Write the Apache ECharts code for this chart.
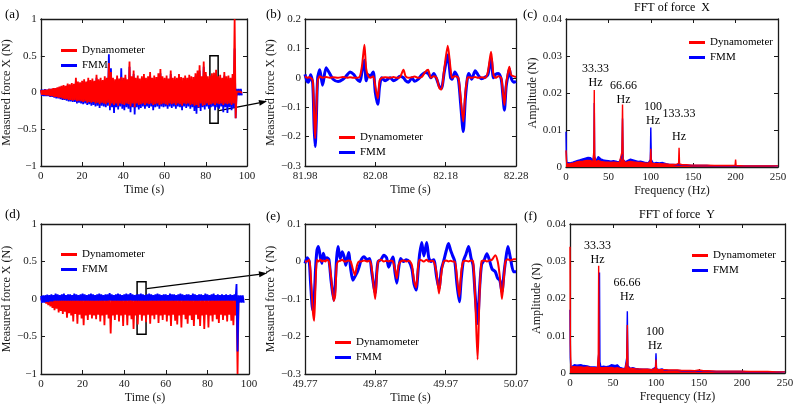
<!DOCTYPE html>
<html>
<head>
<meta charset="utf-8">
<script src="https://cdn.jsdelivr.net/npm/echarts@6/dist/echarts.min.js"></script>
<style>
  html, body { margin: 0; padding: 0; background: #fff; }
  #chart { width: 800px; height: 410px; }
</style>
</head>
<body>
<div id="chart"></div>
<script>
// ---- data ----
// (a) force X, envelope of the dense signal, one sample per second (0..97 s)
const aRedHi = [0.03,0.03,0.04,0.04,0.05, 0.05,0.06,0.06,0.07,0.08, 0.09,0.10,0.09,0.12,0.11, 0.13,0.12,0.20,0.15,0.14, 0.16,0.18,0.15,0.20,0.17, 0.19,0.16,0.24,0.18,0.20, 0.17,0.22,0.20,0.40,0.28, 0.20,0.18,0.23,0.19,0.21, 0.20,0.24,0.18,0.42,0.22, 0.30,0.20,0.23,0.19,0.22, 0.25,0.20,0.22,0.28,0.20, 0.23,0.21,0.26,0.32,0.22, 0.20,0.23,0.19,0.30,0.20, 0.22,0.20,0.25,0.21,0.20, 0.23,0.20,0.24,0.22,0.21, 0.26,0.30,0.37,0.22,0.42, 0.28,0.22,0.23,0.26,0.27, 0.31,0.22,0.24,0.20,0.28, 0.22,0.23,0.20,0.25,1.00, 0.01,0.01,0.01]
const aRedLo = [-0.03,-0.03,-0.04,-0.04,-0.05, -0.05,-0.06,-0.06,-0.07,-0.07, -0.08,-0.09,-0.09,-0.10,-0.10, -0.11,-0.10,-0.12,-0.11,-0.12, -0.13,-0.12,-0.14,-0.13,-0.14, -0.13,-0.15,-0.14,-0.16,-0.14, -0.15,-0.16,-0.14,-0.18,-0.15, -0.17,-0.15,-0.18,-0.15,-0.16, -0.17,-0.15,-0.16,-0.19,-0.15, -0.20,-0.15,-0.17,-0.16,-0.15, -0.17,-0.15,-0.16,-0.15,-0.17, -0.16,-0.15,-0.17,-0.16,-0.15, -0.16,-0.17,-0.15,-0.16,-0.15, -0.17,-0.15,-0.16,-0.18,-0.15, -0.16,-0.15,-0.17,-0.16,-0.18, -0.17,-0.20,-0.15,-0.18,-0.17, -0.15,-0.17,-0.16,-0.15,-0.17, -0.15,-0.16,-0.15,-0.17,-0.15, -0.16,-0.15,-0.17,-0.15,-0.35, -0.01,-0.01,-0.01]
const aBluHi = [0.04,0.04,0.045,0.04,0.05, 0.05,0.05,0.06,0.06,0.07, 0.08,0.08,0.08,0.10,0.09, 0.10,0.10,0.15,0.12,0.12, 0.13,0.15,0.12,0.16,0.14, 0.15,0.13,0.20,0.15,0.16, 0.14,0.18,0.16,0.52,0.33, 0.16,0.15,0.20,0.16,0.33, 0.17,0.20,0.15,0.35,0.18, 0.25,0.16,0.19,0.16,0.18, 0.20,0.16,0.18,0.23,0.16, 0.19,0.17,0.21,0.26,0.18, 0.16,0.19,0.16,0.25,0.16, 0.18,0.16,0.20,0.17,0.16, 0.19,0.16,0.20,0.18,0.17, 0.22,0.25,0.30,0.18,0.35, 0.24,0.18,0.20,0.22,0.23, 0.26,0.18,0.20,0.17,0.23, 0.18,0.19,0.17,0.20,0.60, 0.05,0.05,0.05]
const aBluLo = [-0.045,-0.05,-0.05,-0.05,-0.06, -0.06,-0.07,-0.08,-0.08,-0.09, -0.10,-0.10,-0.11,-0.12,-0.12, -0.13,-0.13,-0.15,-0.14,-0.15, -0.16,-0.15,-0.17,-0.16,-0.18, -0.17,-0.19,-0.18,-0.21,-0.18, -0.19,-0.20,-0.18,-0.24,-0.20, -0.28,-0.20,-0.23,-0.19,-0.22, -0.24,-0.20,-0.22,-0.27,-0.20, -0.30,-0.20,-0.23,-0.21,-0.19, -0.22,-0.19,-0.21,-0.19,-0.24, -0.20,-0.19,-0.22,-0.19,-0.20, -0.19,-0.22,-0.19,-0.21,-0.19, -0.22,-0.19,-0.20,-0.24,-0.19, -0.21,-0.19,-0.22,-0.20,-0.25, -0.29,-0.21,-0.25,-0.20,-0.23, -0.19,-0.22,-0.20,-0.19,-0.24, -0.20,-0.22,-0.19,-0.27,-0.20, -0.28,-0.20,-0.24,-0.21,-0.35, -0.04,-0.04,-0.04]

// (d) force Y, same sampling
const dRedHi = [0.01,0.01,0.01,0.01,0.01, 0.01,0.01,0.01,0.01,0.01, 0.01,0.01,0.01,0.01,0.01, 0.01,0.01,0.01,0.01,0.01, 0.01,0.01,0.01,0.01,0.01, 0.01,0.01,0.01,0.01,0.01, 0.01,0.01,0.01,0.01,0.01, 0.01,0.01,0.01,0.01,0.01, 0.01,0.01,0.01,0.01,0.01, 0.01,0.01,0.01,0.01,0.01, 0.01,0.01,0.01,0.01,0.01, 0.01,0.01,0.01,0.01,0.01, 0.01,0.01,0.01,0.01,0.01, 0.01,0.01,0.01,0.01,0.01, 0.01,0.01,0.01,0.01,0.01, 0.01,0.01,0.01,0.01,0.01, 0.01,0.01,0.01,0.01,0.01, 0.01,0.01,0.01,0.01,0.01, 0.01,0.01,0.01,0.01,0.05, 0.01,0.01,0.01]
const dRedLo = [-0.03,-0.04,-0.06,-0.08,-0.10, -0.12,-0.15,-0.13,-0.18,-0.16, -0.20,-0.17,-0.25,-0.19,-0.22, -0.30,-0.20,-0.33,-0.21,-0.26, -0.35,-0.22,-0.28,-0.21,-0.26, -0.22,-0.27,-0.21,-0.30,-0.22, -0.35,-0.21,-0.26,-0.46,-0.22, -0.28,-0.21,-0.30,-0.22,-0.36, -0.21,-0.35,-0.22,-0.27,-0.40, -0.22,-0.34,-0.21,-0.29,-0.22, -0.31,-0.21,-0.33,-0.22,-0.27, -0.21,-0.32,-0.22,-0.28,-0.21, -0.30,-0.22,-0.36,-0.21,-0.29, -0.34,-0.22,-0.38,-0.21,-0.27, -0.33,-0.22,-0.28,-0.36,-0.21, -0.27,-0.36,-0.22,-0.40,-0.21, -0.38,-0.22,-0.30,-0.21,-0.27, -0.32,-0.21,-0.28,-0.22,-0.30, -0.21,-0.29,-0.35,-0.22,-1.00, -0.01,-0.01,-0.01]
const dBluHi = [0.04,0.05,0.05,0.06,0.05, 0.06,0.05,0.07,0.06,0.05, 0.06,0.07,0.05,0.06,0.06, 0.05,0.07,0.06,0.05,0.06, 0.07,0.06,0.05,0.06,0.07, 0.06,0.05,0.06,0.07,0.06, 0.05,0.06,0.06,0.08,0.06, 0.05,0.06,0.07,0.06,0.05, 0.06,0.07,0.06,0.08,0.06, 0.05,0.06,0.06,0.07,0.06, 0.05,0.06,0.07,0.06,0.05, 0.06,0.07,0.06,0.05,0.06, 0.06,0.05,0.07,0.06,0.06, 0.05,0.06,0.07,0.06,0.05, 0.06,0.06,0.05,0.07,0.06, 0.05,0.06,0.06,0.05,0.07, 0.06,0.05,0.06,0.07,0.05, 0.06,0.05,0.06,0.05,0.06, 0.05,0.06,0.05,0.06,0.20, 0.05,0.05,0.05]
const dBluLo = [-0.05,-0.05,-0.04,-0.04,-0.03, -0.03,-0.02,-0.02,-0.02,-0.02, -0.02,-0.02,-0.02,-0.02,-0.02, -0.02,-0.02,-0.02,-0.02,-0.02, -0.02,-0.02,-0.02,-0.02,-0.02, -0.02,-0.02,-0.02,-0.02,-0.02, -0.02,-0.02,-0.02,-0.02,-0.02, -0.02,-0.02,-0.02,-0.02,-0.02, -0.02,-0.02,-0.02,-0.02,-0.02, -0.02,-0.02,-0.02,-0.02,-0.02, -0.02,-0.02,-0.02,-0.02,-0.02, -0.02,-0.02,-0.02,-0.02,-0.02, -0.02,-0.02,-0.02,-0.02,-0.02, -0.02,-0.02,-0.02,-0.02,-0.02, -0.02,-0.02,-0.02,-0.02,-0.02, -0.02,-0.02,-0.02,-0.02,-0.02, -0.02,-0.02,-0.02,-0.02,-0.02, -0.02,-0.02,-0.02,-0.02,-0.02, -0.02,-0.02,-0.02,-0.02,-0.70, -0.05,-0.05,-0.05]

// (b) zoom of force X, time in ms after 81.98 s
const bStart = 81.98
const bMs = [0,3,5,8,11,13,14.5,16,18,21, 25,30,35,40,47,54,60,64,69,74, 78,81,84.5,87,90,93,97,100,103.5,106, 109,114,121,126,130,135,140,143,147,152, 156,161,166,171,175,179,183,187,191,194, 198,203,207,209,213,218,221,225,228,231, 233,237,242,246,251,256,260,264.5,268,271, 275,279,281,283.5,286,288,290.5,293,297,300]
const bRed = [0.005,0,0.002,0,-0.01,-0.13,-0.206,-0.12,-0.01,0.005, 0,0.003,0,0.002,0,0.003,0,0.002,0,0, 0.005,0.04,0.112,0.03,0.005,0,0.005,-0.03,-0.07,-0.01, 0,0.002,0,0.003,0,0.002,0.027,0.005,0,0.002, 0.004,0,0.003,0.02,0.027,0,0.005,0,-0.035,-0.04, 0.03,0.109,0.03,0,0.005,0,-0.06,-0.149,-0.05,0, 0.002,0,0.003,0,0.002,0,0.02,0.089,0.01,0, 0.005,0,-0.04,-0.093,-0.02,0.01,0.038,0.01,0.005,0.003]
const bBlue = [0.012,-0.012,-0.015,0.01,-0.02,-0.17,-0.234,-0.15,0,0.027, -0.025,0.034,0.015,-0.005,-0.013,-0.005,0.01,0.02,0.012,-0.005, -0.013,0.02,0.06,-0.01,0.01,0.006,0.02,-0.05,-0.09,-0.03, 0,-0.01,0,-0.01,-0.005,0.005,0,-0.01,-0.015,0, -0.012,-0.005,0.01,0.018,0.015,0,0.015,-0.003,-0.03,-0.036, 0.02,0.078,0,-0.005,0.02,-0.005,-0.08,-0.183,-0.07,0, 0.015,-0.005,0.024,0.01,-0.003,0.002,0.01,0.066,0,0.012, 0.015,-0.005,-0.05,-0.11,-0.03,0,0.03,0,-0.015,-0.012]

// (e) zoom of force Y, time in ms after 49.77 s
const eStart = 49.77
const eMs = [0,3,6,8,11,13,15,17,19,22, 24,26,29,31,34,37,41,43,45,47, 50,53,56,58,62,65,68,71,74,77, 80,84,88,92,95,99.8,102,104,108,112, 116,119,122,125,128,130.5,133,136,140,144, 148,152,155,158,161,163,166,169,173,176, 179,183,187,190.5,194,197,201,204,207,210, 213,216,219.4,222,225,229,232.6,236,239,242, 245.4,248,251,255,258.6,262,266,270.5,274,277, 280,283,285,288.5,292,296.6,300]
const eRed = [0,0,0.005,-0.03,-0.13,-0.158,-0.06,0.005,0,0.005, 0,0.003,0,0.005,0,-0.04,-0.105,-0.09,-0.01,0, 0.002,0.005,0,0,0.003,0,-0.02,-0.036,-0.01,0, 0,0.003,0,0.002,-0.02,-0.1,-0.04,0,0.005,0, 0.002,0,0.003,0,-0.02,-0.045,-0.01,0,0.003,0, 0.002,-0.01,-0.05,-0.069,-0.01,0.005,0.003,0,0.005,0, 0.002,0,-0.03,-0.085,-0.03,0,0.003,0,0.002,0, 0,-0.04,-0.094,-0.03,0,0.002,0,0.003,0,-0.1, -0.261,-0.1,0,0.003,0,0.003,0.005,0.017,0,-0.04, -0.1,-0.04,0,0.006,0.003,0.006,0.006]
const eBlue = [-0.005,0.01,0,-0.06,-0.13,-0.1,-0.02,0.03,0.04,0.01, -0.005,0.022,0.005,0.01,0.005,-0.05,-0.103,-0.06,0.01,0.04, 0.008,0.026,0.01,-0.01,0.024,-0.02,-0.05,-0.04,-0.03,-0.014, 0.005,0.013,0.005,0.008,-0.03,-0.084,-0.03,0,0.005,0.017, 0.01,-0.015,0,0.012,-0.03,-0.058,-0.02,0.008,0,0.005, 0,-0.02,-0.06,-0.076,-0.02,0.02,0.051,0.015,0.051,0.01, 0,0.005,-0.04,-0.072,-0.02,0,0.03,0.048,0.03,0.015, 0,-0.06,-0.107,-0.05,0,0.02,0.04,0.01,-0.01,-0.09, -0.165,-0.08,-0.009,0.005,0.021,0.005,-0.02,-0.027,-0.045,-0.05, -0.081,-0.03,0,0.04,0.01,-0.027,-0.027]

// (c) FFT of force X
const cFreq = [0,0.4,1,2,5,8,10,13,16,20, 23,26,29,32,32.9,33.33,33.8,35,38,41, 44,47,50,53,56,60,63,65.9,66.66,67.4, 70,73,76,79,82,85,88,91,94,97, 99.4,100,100.6,103,106,110,114,118,122,126, 130,132.8,133.33,133.9,137,142,148,155,160,166, 166.66,167.3,175,185,195,199.4,200,200.6,210,220, 230,240,250]
const cBlue = [0.0095,0.004,0.0012,0.001,0.0011,0.0013,0.0012,0.0017,0.0019,0.0022, 0.0024,0.0026,0.0025,0.0018,0.004,0.0173,0.003,0.0015,0.0028,0.0022, 0.0019,0.0018,0.0017,0.0016,0.0017,0.0015,0.0014,0.003,0.0131,0.002, 0.0014,0.0018,0.0021,0.0019,0.0017,0.0015,0.0016,0.0014,0.0012,0.0011, 0.002,0.0107,0.002,0.001,0.0012,0.0011,0.0012,0.0009,0.0007,0.0007, 0.0006,0.0006,0.0008,0.0005,0.0005,0.0005,0.0004,0.0004,0.0004,0.0004, 0.0005,0.0004,0.0003,0.0003,0.0003,0.0003,0.0005,0.0003,0.0003,0.0003, 0.0003,0.0003,0.0003]
const cRed = [0.0045,0.002,0.0008,0.0008,0.0009,0.001,0.0012,0.0014,0.0015,0.0016, 0.0017,0.0018,0.0017,0.0014,0.005,0.0208,0.003,0.0014,0.0017,0.0015, 0.0014,0.0013,0.0013,0.0012,0.0013,0.0012,0.0012,0.004,0.0169,0.002, 0.0012,0.0014,0.0015,0.0014,0.0013,0.0012,0.0012,0.0011,0.001,0.001, 0.0015,0.0049,0.0012,0.0009,0.0009,0.0009,0.0008,0.0008,0.0007,0.0007, 0.0007,0.001,0.0052,0.0008,0.0006,0.0006,0.0005,0.0005,0.0005,0.0005, 0.0008,0.0004,0.0004,0.0004,0.0004,0.0005,0.002,0.0004,0.0003,0.0003, 0.0003,0.0003,0.0003]

// (f) FFT of force Y
const fFreq = [0,0.4,1,3,5,8,10,13,16,20, 23,26,29,32,32.9,33.33,33.8,34.3,34.8,36, 39,42,45,48,50,52,55,58,61,64, 65.9,66.66,67.4,70,73,76,80,85,90,95, 99.4,100,100.6,103,107,110,115,120,125,130, 135,140,145,150,155,160,170,180,190,199.4, 200,200.6,210,220,230,240,250]
const fBlue = [0.017,0.004,0.0015,0.0018,0.0022,0.0021,0.002,0.0022,0.002,0.0019, 0.0017,0.0016,0.0016,0.0015,0.002,0.005,0.012,0.027,0.003,0.0016, 0.0018,0.0017,0.0018,0.0022,0.0027,0.002,0.0022,0.0015,0.0013,0.0012, 0.004,0.0166,0.002,0.0012,0.0014,0.0012,0.0011,0.001,0.001,0.0009, 0.0015,0.0053,0.0012,0.0009,0.0011,0.0008,0.0007,0.0007,0.0007,0.0006, 0.0006,0.0006,0.0005,0.0006,0.0005,0.0005,0.0004,0.0004,0.0004,0.0004, 0.0006,0.0004,0.0003,0.0003,0.0003,0.0003,0.0003]
const fRed = [0.0339,0.008,0.0016,0.0016,0.0017,0.0016,0.0017,0.0016,0.0015,0.0016, 0.0015,0.0014,0.0014,0.0013,0.005,0.0288,0.004,0.0014,0.0013,0.0013, 0.0014,0.0015,0.0014,0.0015,0.0014,0.0013,0.0014,0.0012,0.0011,0.0011, 0.003,0.0129,0.0015,0.0012,0.0012,0.0011,0.0011,0.001,0.001,0.0009, 0.0012,0.0036,0.001,0.0009,0.0009,0.0009,0.0008,0.0008,0.0008,0.0007, 0.0007,0.0007,0.0006,0.0008,0.0006,0.0006,0.0005,0.0005,0.0005,0.0005, 0.0009,0.0005,0.0004,0.0004,0.0004,0.0003,0.0003]

// ---- chart ----
const FONT = 'Liberation Serif'
const INK = '#1a1a1a'
const RED = '#ff0000'
const BLUE = '#0000ff'

const fmt = (v) => String(parseFloat(v.toFixed(4))).replace('-', '\u2212')

// dense signal drawn as an up/down trace between the envelope values
const zigzag = (hi, lo) => {
  const out = []
  for (let i = 0; i < Math.min(hi.length, lo.length); i++) {
    out.push([i, hi[i]])
    out.push([i + 0.5, lo[i]])
  }
  return out
}
const pairs = (xs, ys) => xs.map((x, i) => [x, ys[i]])

const grids = [
  { left: 40, top: 19, width: 207, height: 147 },
  { left: 305, top: 19, width: 211, height: 147 },
  { left: 566, top: 19, width: 212, height: 148 },
  { left: 41, top: 224, width: 208, height: 150 },
  { left: 305, top: 224, width: 211, height: 150 },
  { left: 570, top: 224, width: 215, height: 149 }
]

const axSpec = [
  { x: [0, 100, 20, fmt, 'Time (s)'], y: [-1, 1, 0.5, 'Measured force X (N)'] },
  { x: [0, 300, 100, (v) => (bStart + v / 1000).toFixed(2), 'Time (s)'], y: [-0.3, 0.2, 0.1, 'Measured force X (N)'] },
  { x: [0, 250, 50, fmt, 'Frequency (Hz)'], y: [0, 0.04, 0.01, 'Amplitude (N)'] },
  { x: [0, 100, 20, fmt, 'Time (s)'], y: [-1, 1, 0.5, 'Measured force X (N)'] },
  { x: [0, 300, 100, (v) => (eStart + v / 1000).toFixed(2), 'Time (s)'], y: [-0.3, 0.1, 0.1, 'Measured force Y (N)'] },
  { x: [0, 250, 50, fmt, 'Frequency (Hz)'], y: [0, 0.04, 0.01, 'Amplitude (N)'] }
]

const xAxes = []
const yAxes = []
axSpec.forEach((s, g) => {
  const common = {
    gridIndex: g,
    type: 'value',
    axisLine: { show: true, onZero: false, lineStyle: { color: INK, width: 1.3 } },
    axisTick: { show: true, inside: true, length: 4, lineStyle: { color: INK, width: 1 } },
    splitLine: { show: false }
  }
  const nameStyle = { fontFamily: FONT, fontSize: 12, color: INK }
  const lab = { fontFamily: FONT, fontSize: 11, color: INK }
  xAxes.push({
    ...common, position: 'bottom', min: s.x[0], max: s.x[1], interval: s.x[2],
    axisLabel: { ...lab, margin: 5, formatter: s.x[3] },
    name: s.x[4], nameLocation: 'middle', nameGap: 18, nameTextStyle: nameStyle
  })
  xAxes.push({
    ...common, position: 'top', min: s.x[0], max: s.x[1], interval: s.x[2],
    axisLabel: { show: false }
  })
  yAxes.push({
    ...common, position: 'left', min: s.y[0], max: s.y[1], interval: s.y[2],
    axisLabel: { ...lab, margin: 4, formatter: fmt },
    name: s.y[3], nameLocation: 'middle', nameRotate: 90,
    nameGap: g === 1 || g === 4 ? 24 : 22, nameTextStyle: nameStyle
  })
  yAxes.push({
    ...common, position: 'right', min: s.y[0], max: s.y[1], interval: s.y[2],
    axisLabel: { show: false }
  })
})

const line = (g, name, color, data, width, extra) => ({
  type: 'line', name, color, xAxisIndex: 2 * g, yAxisIndex: 2 * g,
  data, showSymbol: false, symbol: 'none', silent: true,
  lineStyle: { color, width }, ...extra
})

const boxSeries = (g, a, b) => ({
  type: 'line', xAxisIndex: 2 * g, yAxisIndex: 2 * g, data: [], z: 10, silent: true,
  markArea: {
    silent: true,
    itemStyle: { color: 'rgba(0,0,0,0)', borderColor: '#000', borderWidth: 1.5 },
    data: [[{ coord: a }, { coord: b }]]
  }
})

const hzLabels = (items) => ({
  symbol: 'circle', symbolSize: 1, silent: true,
  itemStyle: { color: 'rgba(0,0,0,0)' },
  label: { show: true, position: 'inside', color: '#000', fontFamily: FONT, fontSize: 12, lineHeight: 14, formatter: '{b}' },
  data: items
})

const series = [
  // (a)
  line(0, 'FMM', BLUE, zigzag(aBluHi, aBluLo), 1.8),
  line(0, 'Dynamometer', RED, zigzag(aRedHi, aRedLo), 1.8),
  boxSeries(0, [82, 0.5], [86, -0.42]),
  // (b)
  line(1, 'FMM', BLUE, pairs(bMs, bBlue), 3, { smooth: 0.25 }),
  line(1, 'Dynamometer', RED, pairs(bMs, bRed), 2, { smooth: 0.25 }),
  // (c)
  line(2, 'FMM', BLUE, pairs(cFreq, cBlue), 1.4, { areaStyle: { color: BLUE, opacity: 1 } }),
  line(2, 'Dynamometer', RED, pairs(cFreq, cRed), 1.4, {
    areaStyle: { color: RED, opacity: 1 },
    markPoint: hzLabels([
      { name: '33.33\nHz', coord: [34.8, 0.0246] },
      { name: '66.66\nHz', coord: [67.8, 0.0201] },
      { name: '100\nHz', coord: [102.6, 0.01446] },
      { name: '133.33\n\nHz', coord: [133.3, 0.0112], label: { lineHeight: 11.5 } }
    ])
  }),
  // (d)
  line(3, 'Dynamometer', RED, zigzag(dRedHi, dRedLo), 1.8),
  line(3, 'FMM', BLUE, zigzag(dBluHi, dBluLo), 1.8),
  boxSeries(3, [46.2, 0.23], [50.5, -0.47]),
  // (e)
  line(4, 'FMM', BLUE, pairs(eMs, eBlue), 3, { smooth: 0.25 }),
  line(4, 'Dynamometer', RED, pairs(eMs, eRed), 2, { smooth: 0.25 }),
  // (f)
  line(5, 'FMM', BLUE, pairs(fFreq, fBlue), 1.4, { areaStyle: { color: BLUE, opacity: 1 } }),
  line(5, 'Dynamometer', RED, pairs(fFreq, fRed), 1.4, {
    areaStyle: { color: RED, opacity: 1 },
    markPoint: hzLabels([
      { name: '33.33\nHz', coord: [32, 0.03235] },
      { name: '66.66\nHz', coord: [66.3, 0.02228] },
      { name: '100\nHz', coord: [98.8, 0.00926] }
    ])
  })
]

const legendAt = (left, top) => ({
  orient: 'vertical', left, top, itemWidth: 16, itemHeight: 3, itemGap: 2,
  icon: 'rect', selectedMode: false, data: ['Dynamometer', 'FMM'],
  textStyle: { fontFamily: FONT, fontSize: 11, color: '#000', lineHeight: 13 }
})

const txt = (x, y, text, size, align) => ({
  type: 'text', x, y, silent: true,
  style: { text, fill: '#000', font: size + 'px "' + FONT + '"', align: align || 'left', verticalAlign: 'middle' }
})

const arrow = (x1, y1, x2, y2) => {
  const dx = x2 - x1, dy = y2 - y1, len = Math.hypot(dx, dy)
  const ux = dx / len, uy = dy / len
  const bx = x2 - 8 * ux, by = y2 - 8 * uy
  return [
    { type: 'line', silent: true, shape: { x1, y1, x2: bx, y2: by }, style: { stroke: '#000', lineWidth: 1.3 } },
    { type: 'polygon', silent: true, shape: { points: [[x2, y2], [bx - 3 * uy, by + 3 * ux], [bx + 3 * uy, by - 3 * ux]] }, style: { fill: '#000' } }
  ]
}

const chart = echarts.init(document.getElementById('chart'), null, { renderer: 'canvas' })
chart.setOption({
  animation: false,
  backgroundColor: '#fff',
  grid: grids,
  xAxis: xAxes,
  yAxis: yAxes,
  legend: [
    legendAt(56, 39), legendAt(334, 126), legendAt(684, 31),
    legendAt(56, 243), legendAt(330, 331), legendAt(687, 244)
  ],
  series,
  graphic: [
    txt(5, 15, '(a)', 13), txt(266, 15, '(b)', 13), txt(523, 15, '(c)', 13),
    txt(5, 215, '(d)', 13), txt(266, 217, '(e)', 13), txt(524, 217, '(f)', 13),
    txt(672, 8, 'FFT of force  X', 12, 'center'),
    txt(677, 215, 'FFT of force  Y', 12, 'center'),
    ...arrow(219, 110.7, 267, 101.3),
    ...arrow(146.7, 288.7, 267, 273.3)
  ]
})
</script>
</body>
</html>
